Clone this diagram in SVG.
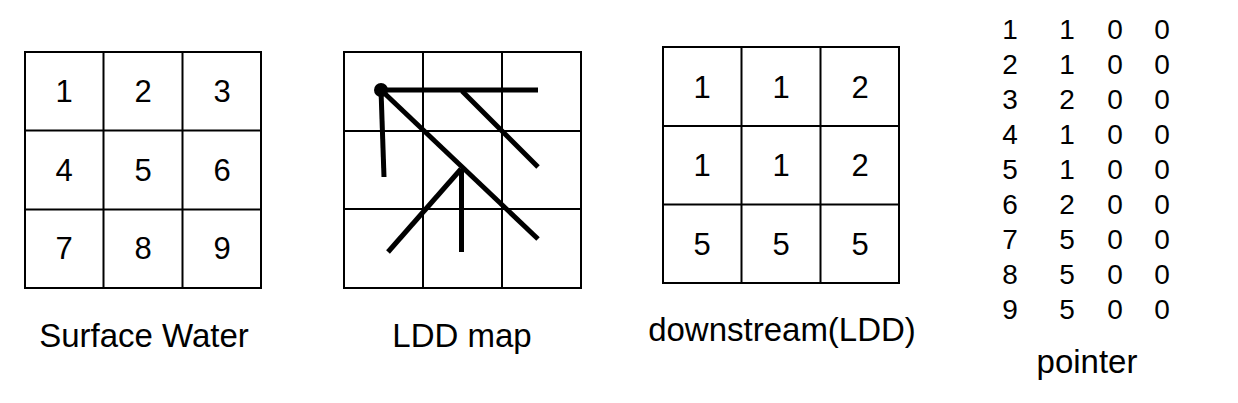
<svg xmlns="http://www.w3.org/2000/svg" width="1238" height="403" viewBox="0 0 1238 403">
<style>
.grid{fill:none;stroke:#000;stroke-width:2}
.flow{fill:none;stroke:#000;stroke-width:5;stroke-linecap:butt}
.num{font-family:"Liberation Sans",Arial,sans-serif;font-size:31px;fill:#000;text-anchor:middle}
.ptr{font-family:"Liberation Sans",Arial,sans-serif;font-size:28px;fill:#000;text-anchor:middle}
.lbl{font-family:"Liberation Sans",Arial,sans-serif;font-size:33px;fill:#000;text-anchor:middle}
</style>
<rect width="1238" height="403" fill="#fff"/>
<g id="surface-water">
<rect class="grid" x="25" y="52" width="236" height="236"/>
<path class="grid" d="M103.5 52V288M182.5 52V288M25 130.5H261M25 209.5H261"/>
<text class="num" x="64" y="102">1</text>
<text class="num" x="143" y="102">2</text>
<text class="num" x="222" y="102">3</text>
<text class="num" x="64" y="181">4</text>
<text class="num" x="143" y="181">5</text>
<text class="num" x="222" y="181">6</text>
<text class="num" x="64" y="259">7</text>
<text class="num" x="143" y="259">8</text>
<text class="num" x="222" y="259">9</text>
<text class="lbl" x="144" y="347">Surface Water</text>
</g>
<g id="ldd-map">
<rect class="grid" x="344" y="52" width="237" height="236"/>
<path class="grid" d="M423 52V288M502 52V288M344 131H581M344 209H581"/>
<text class="lbl" x="462" y="347">LDD map</text>
</g>
<g id="connectors">
<path class="flow" d="M381 90H538"/>
<path class="flow" d="M381 90L384 177"/>
<path class="flow" d="M381 90L538 239"/>
<path class="flow" d="M462 91L538 167"/>
<path class="flow" d="M388 252L461 169"/>
<path class="flow" d="M461.5 169V252"/>
<circle cx="381" cy="90" r="7" fill="#000"/>
</g>
<g id="downstream">
<rect class="grid" x="663" y="47" width="236" height="236"/>
<path class="grid" d="M741.5 47V283M820.5 47V283M663 126H899M663 204.5H899"/>
<text class="num" x="702" y="98">1</text>
<text class="num" x="781" y="98">1</text>
<text class="num" x="860" y="98">2</text>
<text class="num" x="702" y="176">1</text>
<text class="num" x="781" y="176">1</text>
<text class="num" x="860" y="176">2</text>
<text class="num" x="702" y="255">5</text>
<text class="num" x="781" y="255">5</text>
<text class="num" x="860" y="255">5</text>
<text class="lbl" x="782" y="341">downstream(LDD)</text>
</g>
<g id="pointer">
<text class="ptr" x="1010" y="39">1</text><text class="ptr" x="1067" y="39">1</text><text class="ptr" x="1115" y="39">0</text><text class="ptr" x="1162" y="39">0</text>
<text class="ptr" x="1010" y="74">2</text><text class="ptr" x="1067" y="74">1</text><text class="ptr" x="1115" y="74">0</text><text class="ptr" x="1162" y="74">0</text>
<text class="ptr" x="1010" y="109">3</text><text class="ptr" x="1067" y="109">2</text><text class="ptr" x="1115" y="109">0</text><text class="ptr" x="1162" y="109">0</text>
<text class="ptr" x="1010" y="144">4</text><text class="ptr" x="1067" y="144">1</text><text class="ptr" x="1115" y="144">0</text><text class="ptr" x="1162" y="144">0</text>
<text class="ptr" x="1010" y="179">5</text><text class="ptr" x="1067" y="179">1</text><text class="ptr" x="1115" y="179">0</text><text class="ptr" x="1162" y="179">0</text>
<text class="ptr" x="1010" y="214">6</text><text class="ptr" x="1067" y="214">2</text><text class="ptr" x="1115" y="214">0</text><text class="ptr" x="1162" y="214">0</text>
<text class="ptr" x="1010" y="249">7</text><text class="ptr" x="1067" y="249">5</text><text class="ptr" x="1115" y="249">0</text><text class="ptr" x="1162" y="249">0</text>
<text class="ptr" x="1010" y="284">8</text><text class="ptr" x="1067" y="284">5</text><text class="ptr" x="1115" y="284">0</text><text class="ptr" x="1162" y="284">0</text>
<text class="ptr" x="1010" y="319">9</text><text class="ptr" x="1067" y="319">5</text><text class="ptr" x="1115" y="319">0</text><text class="ptr" x="1162" y="319">0</text>
<text class="lbl" x="1087" y="373">pointer</text>
</g>
</svg>
